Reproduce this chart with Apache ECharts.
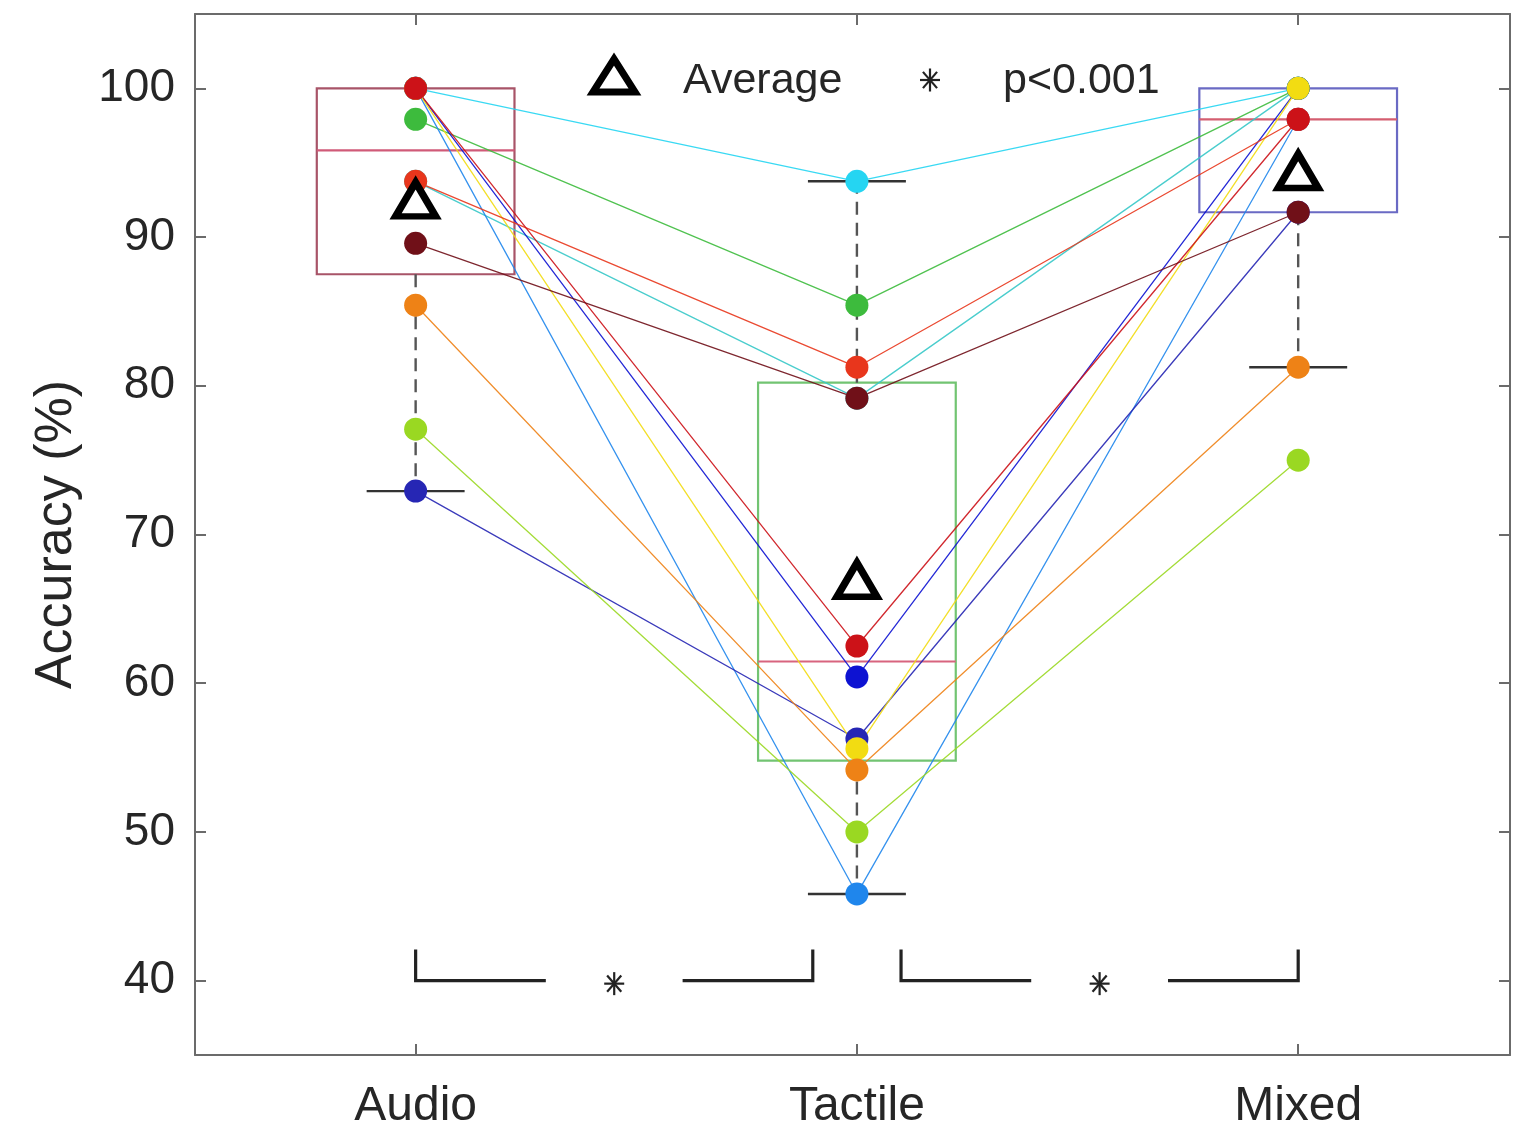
<!DOCTYPE html>
<html>
<head>
<meta charset="utf-8">
<title>Accuracy by condition</title>
<script src="https://cdn.jsdelivr.net/npm/echarts@6/dist/echarts.min.js"></script>
<style>
  html, body { margin: 0; padding: 0; background: #ffffff; }
  #chart { width: 1515px; height: 1131px; }
</style>
</head>
<body>
<div id="chart"></div>
<script>
// ---- data -------------------------------------------------------------
const conditions = ['Audio', 'Tactile', 'Mixed'];
const yTicks = [40, 50, 60, 70, 80, 90, 100];

// one entry per participant (same order in every array)
const participantColors = [
  '#25d5f2', '#3dbb3d', '#36c8c8', '#0d12d2', '#1f86ec', '#2626b4',
  '#f2dc12', '#e8361c', '#cc1218', '#701018', '#ee8216', '#9ad822'
];
const audioScores   = [100, 97.92, 93.75, 100, 100, 72.92, 100, 93.75, 100, 89.58, 85.42, 77.08];
const tactileScores = [93.75, 85.42, 79.17, 60.42, 45.83, 56.25, 55.6, 81.25, 62.5, 79.17, 54.17, 50];
const mixedScores   = [100, 100, 100, 100, 97.92, 91.67, 100, 97.92, 97.92, 91.67, 81.25, 75];

// box summaries per condition (whisker low, Q1, median, Q3, whisker high)
const boxLow    = [72.92, 45.83, 81.25];
const boxQ1     = [87.5, 54.8, 91.67];
const boxMedian = [95.83, 61.46, 97.92];
const boxQ3     = [100, 80.21, 100];
const boxHigh   = [100, 93.75, 100];

// significant pairwise comparisons (condition indices), p < 0.001
const comparisons = [[0, 1], [1, 2]];
const bracketLevel = 40;

// ---- styles -----------------------------------------------------------
const FONT = "'Liberation Sans', Arial, Helvetica, sans-serif";
const TEXT = '#262626';
const AXIS = '#6b6b6b';
const boxEdgeColors = ['#a85468', '#72c472', '#6a6ac4'];
const boxMedianColors = ['#d05a78', '#d8647e', '#d45e70'];

const scoresByCondition = [audioScores, tactileScores, mixedScores];
const mean = arr => arr.reduce((s, v) => s + v, 0) / arr.length;
const means = scoresByCondition.map(mean);

// 8-spoke asterisk built from line segments
function asterisk(cx, cy, r, color, width) {
  const out = [];
  for (let k = 0; k < 4; k++) {
    const a = k * Math.PI / 4 + Math.PI / 2;
    const dx = Math.cos(a) * r, dy = Math.sin(a) * r * 1.15;
    out.push({
      type: 'line',
      shape: { x1: cx - dx, y1: cy - dy, x2: cx + dx, y2: cy + dy },
      style: { stroke: color, lineWidth: width }
    });
  }
  return out;
}

// ---- series -----------------------------------------------------------
const series = [];

// box plots
series.push({
  type: 'custom',
  z: 1,
  silent: true,
  data: conditions.map((c, i) => [i + 1, boxLow[i], boxQ1[i], boxMedian[i], boxQ3[i], boxHigh[i]]),
  renderItem(params, api) {
    const i = params.dataIndex;
    const x = api.value(0);
    const lo = api.coord([x, api.value(1)]);
    const q1 = api.coord([x, api.value(2)]);
    const md = api.coord([x, api.value(3)]);
    const q3 = api.coord([x, api.value(4)]);
    const hi = api.coord([x, api.value(5)]);
    const halfBox = api.size([0.224, 0])[0];
    const halfCap = api.size([0.111, 0])[0];
    const cx = q1[0];
    const children = [
      { type: 'rect', shape: { x: cx - halfBox, y: q3[1], width: 2 * halfBox, height: q1[1] - q3[1] },
        style: { fill: 'none', stroke: boxEdgeColors[i], lineWidth: 2.2 } },
      { type: 'line', shape: { x1: cx - halfBox, y1: md[1], x2: cx + halfBox, y2: md[1] },
        style: { stroke: boxMedianColors[i], lineWidth: 2.2 } }
    ];
    const whisker = (yFrom, yTo) => {
      children.push({ type: 'line', shape: { x1: cx, y1: yFrom, x2: cx, y2: yTo },
        style: { stroke: '#555555', lineWidth: 2.4, lineDash: [13, 8] } });
      children.push({ type: 'line', shape: { x1: cx - halfCap, y1: yTo, x2: cx + halfCap, y2: yTo },
        style: { stroke: '#333333', lineWidth: 2.4 } });
    };
    if (api.value(5) > api.value(4)) whisker(q3[1], hi[1]);
    if (api.value(1) < api.value(2)) whisker(q1[1], lo[1]);
    return { type: 'group', children };
  }
});

// participant lines
participantColors.forEach((color, p) => {
  series.push({
    type: 'line',
    z: 2,
    silent: true,
    showSymbol: false,
    lineStyle: { color, width: 1.3, opacity: 0.9 },
    data: scoresByCondition.map((arr, i) => [i + 1, arr[p]])
  });
});

// participant dots
participantColors.forEach((color, p) => {
  series.push({
    type: 'scatter',
    z: 3,
    silent: true,
    symbol: 'circle',
    symbolSize: 23,
    itemStyle: { color, opacity: 1 },
    data: scoresByCondition.map((arr, i) => [i + 1, arr[p]])
  });
});

// condition averages
series.push({
  type: 'scatter',
  z: 4,
  silent: true,
  symbol: 'triangle',
  symbolSize: [40, 34],
  itemStyle: { color: '#ffffff', borderColor: '#000000', borderWidth: 7, opacity: 1 },
  data: means.map((m, i) => [i + 1, m])
});

// significance brackets
series.push({
  type: 'custom',
  z: 4,
  silent: true,
  data: comparisons.map(([a, b]) => [a + 1, b + 1, bracketLevel]),
  renderItem(params, api) {
    const inset = 0.1;          // keep clear of the shared middle condition
    const last = conditions.length;
    const a = api.value(0), b = api.value(1), lvl = api.value(2);
    const x1 = a + (a > 1 ? inset : 0);
    const x2 = b - (b < last ? inset : 0);
    const mid = (x1 + x2) / 2;
    const gap = 0.155;
    const pL = api.coord([x1, lvl]);
    const pR = api.coord([x2, lvl]);
    const pL2 = api.coord([mid - gap, lvl]);
    const pR2 = api.coord([mid + gap, lvl]);
    const pC = api.coord([mid, lvl]);
    const rise = api.size([0, 2.1])[1];
    const st = { stroke: '#222222', lineWidth: 3.2 };
    return {
      type: 'group',
      children: [
        { type: 'polyline', shape: { points: [[pL[0], pL[1] - rise], [pL[0], pL[1]], [pL2[0], pL2[1]]] }, style: Object.assign({ fill: 'none' }, st) },
        { type: 'polyline', shape: { points: [[pR2[0], pR2[1]], [pR[0], pR[1]], [pR[0], pR[1] - rise]] }, style: Object.assign({ fill: 'none' }, st) }
      ].concat(asterisk(pC[0], pC[1] + 3, 10, '#222222', 2.2))
    };
  }
});

// ---- chart ------------------------------------------------------------
const chart = echarts.init(document.getElementById('chart'), null, { renderer: 'canvas' });

const baseValueX = { type: 'value', min: 0.5, max: 3.48, splitLine: { show: false } };
const baseValueY = { type: 'value', min: 35, max: 105, splitLine: { show: false } };
const axisLineStyle = { show: true, onZero: false, lineStyle: { color: AXIS, width: 2 } };
const tickStyle = { color: AXIS, width: 2 };

chart.setOption({
  animation: false,
  backgroundColor: '#ffffff',
  textStyle: { fontFamily: FONT },
  grid: { left: 195, right: 5, top: 14, bottom: 76, containLabel: false },
  xAxis: [
    Object.assign({}, baseValueX, {
      position: 'bottom',
      axisLine: axisLineStyle,
      axisTick: { show: true, inside: true, length: 11, customValues: [1, 2, 3], lineStyle: tickStyle },
      axisLabel: {
        customValues: [1, 2, 3],
        formatter: v => conditions[Math.round(v) - 1] || '',
        fontSize: 48, color: TEXT, fontFamily: FONT, margin: 28
      }
    }),
    Object.assign({}, baseValueX, {
      position: 'top',
      axisLine: axisLineStyle,
      axisTick: { show: true, inside: true, length: 11, customValues: [1, 2, 3], lineStyle: tickStyle },
      axisLabel: { show: false }
    })
  ],
  yAxis: [
    Object.assign({}, baseValueY, {
      position: 'left',
      axisLine: axisLineStyle,
      axisTick: { show: true, inside: true, length: 11, customValues: yTicks, lineStyle: tickStyle },
      axisLabel: { customValues: yTicks, fontSize: 46, color: TEXT, fontFamily: FONT, margin: 20 },
      name: 'Accuracy (%)',
      nameLocation: 'middle',
      nameGap: 112,
      nameRotate: 90,
      nameTextStyle: { fontSize: 52, color: TEXT, fontFamily: FONT }
    }),
    Object.assign({}, baseValueY, {
      position: 'right',
      axisLine: axisLineStyle,
      axisTick: { show: true, inside: true, length: 11, customValues: yTicks, lineStyle: tickStyle },
      axisLabel: { show: false }
    })
  ],
  graphic: [
    { type: 'polygon', z: 10,
      shape: { points: [[614, 59], [635, 92], [593, 92]] },
      style: { fill: '#ffffff', stroke: '#000000', lineWidth: 7, lineJoin: 'miter' } },
    { type: 'text', z: 10, x: 683, y: 81,
      style: { text: 'Average', font: '43px ' + FONT, fill: TEXT, verticalAlign: 'middle' } },
    { type: 'group', z: 10, children: asterisk(930, 80, 10, '#222222', 2.2) },
    { type: 'text', z: 10, x: 1003, y: 81,
      style: { text: 'p<0.001', font: '43px ' + FONT, fill: TEXT, verticalAlign: 'middle' } }
  ],
  series
});
</script>
</body>
</html>
